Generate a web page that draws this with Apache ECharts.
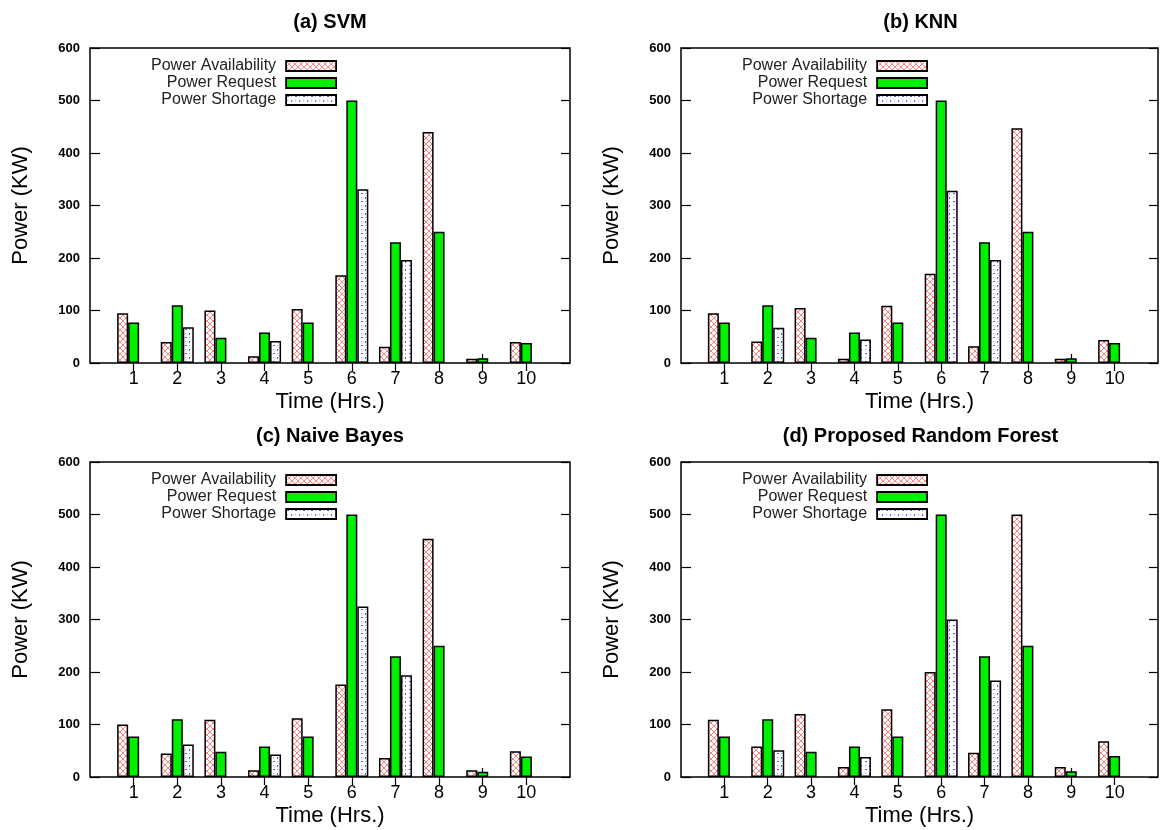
<!DOCTYPE html>
<html>
<head>
<meta charset="utf-8">
<script src="https://cdn.jsdelivr.net/npm/echarts@6/dist/echarts.min.js"></script>
<style>
html,body{margin:0;padding:0;background:#fff;}
#chart{width:1161px;height:830px;}
</style>
</head>
<body>
<div id="chart"></div>
<script>
// ---- data ----
const categories = ['1','2','3','4','5','6','7','8','9','10'];
const panelTitles = ['(a) SVM', '(b) KNN', '(c) Naive Bayes', '(d) Proposed Random Forest'];
const seriesNames = ['Power Availability', 'Power Request', 'Power Shortage'];

const svmAvailability = [95, 40, 100, 13, 103, 167, 31, 440, 8, 40];
const svmRequest      = [77, 110, 48, 58, 77, 500, 230, 250, 9, 38];
const svmShortage     = [null, 68, null, 42, null, 331, 196, null, null, null];

const knnAvailability = [95, 41, 105, 8, 109, 170, 32, 447, 8, 44];
const knnRequest      = [77, 110, 48, 58, 77, 500, 230, 250, 9, 38];
const knnShortage     = [null, 67, null, 45, null, 328, 196, null, null, null];

const nbAvailability  = [100, 45, 109, 13, 112, 176, 36, 454, 13, 49];
const nbRequest       = [77, 110, 48, 58, 77, 500, 230, 250, 10, 39];
const nbShortage      = [null, 62, null, 43, null, 325, 194, null, null, null];

const rfAvailability  = [109, 58, 120, 19, 129, 200, 46, 500, 19, 68];
const rfRequest       = [77, 110, 48, 58, 77, 500, 230, 250, 11, 40];
const rfShortage      = [null, 51, null, 38, null, 300, 184, null, null, null];

const yTicks = [0, 100, 200, 300, 400, 500, 600];

// ---- patterns ----
function makeCross() {
  const c = document.createElement('canvas');
  c.width = 6; c.height = 6;
  const g = c.getContext('2d');
  g.fillStyle = '#fff'; g.fillRect(0, 0, 6, 6);
  g.fillStyle = '#ff8080';
  for (let k = 0; k < 6; k++) {
    g.fillRect(k, k, 1, 1);
    g.fillRect(5 - k, k, 1, 1);
  }
  return c;
}
function makeDots() {
  const c = document.createElement('canvas');
  c.width = 8; c.height = 8;
  const g = c.getContext('2d');
  g.fillStyle = '#fff'; g.fillRect(0, 0, 8, 8);
  g.fillStyle = '#5050ff';
  g.fillRect(1, 1, 2, 1);
  g.fillRect(5, 5, 1, 2);
  g.fillStyle = '#9090ff';
  g.fillRect(5, 1, 1, 1);
  g.fillRect(1, 5, 1, 1);
  return c;
}
const crossPattern = {image: makeCross(), repeat: 'repeat'};
const dotPattern = {image: makeDots(), repeat: 'repeat'};
const greenColor = '#00ee00';

const font = '"Liberation Sans", Arial, Helvetica, sans-serif';
const panels = [
  {avail: svmAvailability, req: svmRequest, short: svmShortage},
  {avail: knnAvailability, req: knnRequest, short: knnShortage},
  {avail: nbAvailability, req: nbRequest, short: nbShortage},
  {avail: rfAvailability, req: rfRequest, short: rfShortage}
];
const gridPos = [
  {left: 90, top: 48, width: 480, height: 315},
  {left: 681, top: 48, width: 479, height: 315},
  {left: 90, top: 462, width: 480, height: 315},
  {left: 681, top: 462, width: 479, height: 315}
];

const axisCats = [''].concat(categories, ['']);
const pad = arr => [null].concat(arr, [null]);
const innerTick = idx => idx > 0 && idx < axisCats.length - 1;

const option = {
  animation: false,
  backgroundColor: '#fff',
  textStyle: {fontFamily: font, color: '#000'},
  title: [], grid: [], xAxis: [], yAxis: [], legend: [], series: []
};

panels.forEach((p, i) => {
  const gp = gridPos[i];
  option.grid.push({
    left: gp.left, top: gp.top, width: gp.width, height: gp.height,
    show: true, borderColor: '#000', borderWidth: 1.5, backgroundColor: 'transparent'
  });
  option.title.push({
    text: panelTitles[i],
    left: gp.left + gp.width / 2,
    top: gp.top - 36,
    textAlign: 'center',
    padding: 0,
    textStyle: {fontFamily: font, fontWeight: 'bold', fontSize: 20, color: '#000'}
  });
  // bottom x axis
  option.xAxis.push({
    type: 'category', gridIndex: i, data: axisCats, boundaryGap: false, position: 'bottom',
    name: 'Time (Hrs.)', nameLocation: 'middle', nameGap: 28,
    nameTextStyle: {fontFamily: font, fontSize: 22, color: '#000'},
    axisLine: {show: false},
    axisTick: {show: true, inside: true, length: 9, interval: innerTick, lineStyle: {color: '#000', width: 1.2}},
    axisLabel: {interval: 0, margin: 7, fontFamily: font, fontSize: 18, color: '#000'},
    splitLine: {show: false}
  });
  // top x axis (mirror ticks)
  option.xAxis.push({
    type: 'category', gridIndex: i, data: axisCats, boundaryGap: false, position: 'top',
    axisLine: {show: false},
    axisTick: {show: true, inside: true, length: 8, interval: innerTick, lineStyle: {color: '#000', width: 1.2}},
    axisLabel: {show: false}, splitLine: {show: false}
  });
  // left y axis
  option.yAxis.push({
    type: 'value', gridIndex: i, min: yTicks[0], max: yTicks[yTicks.length - 1], interval: yTicks[1] - yTicks[0],
    position: 'left',
    name: 'Power (KW)', nameLocation: 'middle', nameGap: 58, nameRotate: 90,
    nameTextStyle: {fontFamily: font, fontSize: 22, color: '#000'},
    axisLine: {show: false},
    axisTick: {show: true, inside: true, length: 10, lineStyle: {color: '#000', width: 1.2}},
    axisLabel: {margin: 10, fontFamily: font, fontSize: 13, fontWeight: 'bold', color: '#000'},
    splitLine: {show: false}
  });
  // right y axis (mirror ticks)
  option.yAxis.push({
    type: 'value', gridIndex: i, min: yTicks[0], max: yTicks[yTicks.length - 1], interval: yTicks[1] - yTicks[0],
    position: 'right',
    axisLine: {show: false},
    axisTick: {show: true, inside: true, length: 9, lineStyle: {color: '#000', width: 1.2}},
    axisLabel: {show: false}, splitLine: {show: false}
  });

  const names = seriesNames.map(n => n + '\u200B'.repeat(i));
  const fills = [crossPattern, greenColor, dotPattern];
  const datas = [p.avail, p.req, p.short];
  names.forEach((nm, k) => {
    option.series.push({
      type: 'bar', name: nm, xAxisIndex: 2 * i, yAxisIndex: 2 * i,
      data: pad(datas[k]),
      barWidth: 11, barGap: '0%',
      itemStyle: {color: fills[k], borderColor: '#000', borderWidth: 1.5},
      emphasis: {disabled: true}
    });
  });

  option.legend.push({
    orient: 'vertical', align: 'right',
    right: 1161 - (gp.left + 247), top: gp.top + 10,
    padding: 0, itemGap: 1, itemWidth: 50, itemHeight: 10, icon: 'rect',
    selectedMode: false,
    data: names.map((nm, k) => ({
      name: nm,
      itemStyle: {color: fills[k], borderColor: '#000', borderWidth: 1.8}
    })),
    formatter: n => n.replace(/\u200B/g, ''),
    textStyle: {fontFamily: font, fontSize: 16, color: '#222', lineHeight: 16, padding: [0, 5, 0, 0]}
  });
});

const chart = echarts.init(document.getElementById('chart'), null, {renderer: 'canvas'});
chart.setOption(option);
</script>
</body>
</html>
